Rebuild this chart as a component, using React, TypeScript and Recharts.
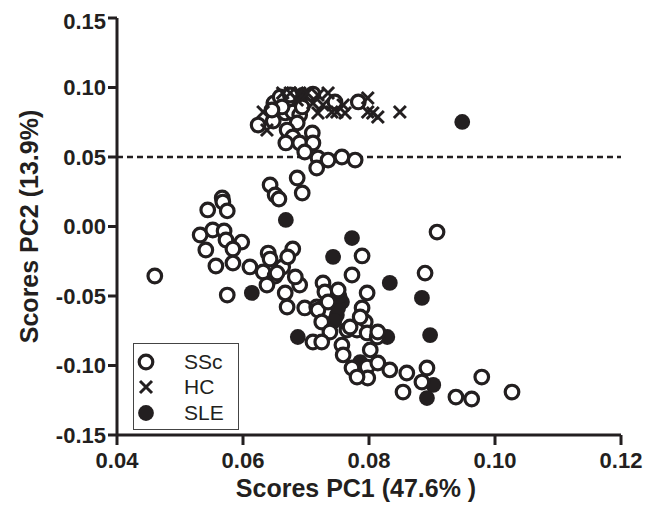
import {
  Legend,
  ReferenceLine,
  Scatter,
  ScatterChart,
  XAxis,
  YAxis,
} from 'recharts'

const INK = '#231f20'
const FONT = '"Liberation Sans", Arial, Helvetica, sans-serif'

const xTicks = [0.04, 0.06, 0.08, 0.1, 0.12]
const yTicks = [-0.15, -0.1, -0.05, 0, 0.05, 0.1, 0.15]
const cutoff = 0.05

// [PC1, PC2]
const sscScores: [number, number][] = [
  [0.0624, 0.073], [0.0648, 0.0759], [0.0649, 0.0888], [0.0659, 0.0932], [0.0667, 0.0817],
  [0.0679, 0.0824], [0.069, 0.0802], [0.0694, 0.086], [0.0686, 0.0745], [0.067, 0.0694],
  [0.0679, 0.0644], [0.0668, 0.0601], [0.069, 0.0601], [0.071, 0.0673], [0.0711, 0.0601],
  [0.0698, 0.0536], [0.0719, 0.0493], [0.0717, 0.0421], [0.0735, 0.0478], [0.0757, 0.05],
  [0.0778, 0.0478], [0.0711, 0.0953], [0.0746, 0.0896], [0.0783, 0.0896], [0.0662, 0.086],
  [0.0675, 0.0946], [0.0646, 0.0838],
  [0.0643, 0.0299], [0.0686, 0.0349], [0.0694, 0.0241], [0.0651, 0.0227], [0.0567, 0.0205],
  [0.046, -0.0356], [0.0544, 0.0119], [0.0568, 0.0176], [0.0575, 0.0112], [0.0532, -0.0061],
  [0.0552, -0.0025], [0.057, -0.0032], [0.0573, -0.0097], [0.0598, -0.0112], [0.0584, -0.0162],
  [0.0541, -0.0169], [0.0557, -0.0284], [0.0584, -0.0263], [0.0575, -0.0493], [0.0611, -0.0291],
  [0.0657, 0.0198],
  [0.064, -0.0191], [0.0643, -0.0234], [0.0632, -0.0327], [0.0663, -0.0291], [0.0679, -0.0162],
  [0.0671, -0.0219], [0.0651, -0.0356], [0.0638, -0.0421], [0.0667, -0.0478], [0.069, -0.0421],
  [0.067, -0.0579], [0.0698, -0.0586], [0.0717, -0.0579], [0.0654, -0.0335], [0.0683, -0.0363],
  [0.0789, -0.0212], [0.0773, -0.0349], [0.0727, -0.0406], [0.073, -0.0471], [0.0751, -0.0457],
  [0.0797, -0.0478], [0.0719, -0.0601], [0.0735, -0.0543], [0.0725, -0.0687], [0.0738, -0.0759],
  [0.0711, -0.0831], [0.0725, -0.0831], [0.0789, -0.0586], [0.0794, -0.0687], [0.0781, -0.0745],
  [0.0765, -0.0745], [0.0797, -0.0766], [0.0813, -0.0795], [0.0814, -0.0759], [0.0757, -0.0853],
  [0.0759, -0.0924], [0.0802, -0.0888], [0.0773, -0.1018], [0.0797, -0.1011], [0.0798, -0.109],
  [0.0814, -0.0982], [0.0833, -0.1032], [0.086, -0.1054], [0.0854, -0.1191], [0.0884, -0.1119],
  [0.0892, -0.1018], [0.0889, -0.0335], [0.0908, -0.004], [0.0938, -0.1227], [0.0963, -0.1241],
  [0.0979, -0.1083], [0.1027, -0.1191], [0.0786, -0.0651], [0.077, -0.0723], [0.0781, -0.1083],
]

const hcScores: [number, number][] = [
  [0.0632, 0.0824], [0.0638, 0.0694], [0.0675, 0.096], [0.069, 0.096], [0.0702, 0.096],
  [0.0719, 0.0946], [0.0735, 0.096], [0.0741, 0.0824], [0.0719, 0.0817], [0.0727, 0.0874],
  [0.0759, 0.0874], [0.0762, 0.0817], [0.0798, 0.0924], [0.0798, 0.0824], [0.0806, 0.0817],
  [0.0814, 0.0788], [0.0849, 0.0824], [0.0711, 0.0888], [0.0686, 0.091], [0.0663, 0.096],
  [0.0749, 0.0824],
]

const sleScores: [number, number][] = [
  [0.0948, 0.0752], [0.0668, 0.0047], [0.0614, -0.0478], [0.0773, -0.0083], [0.0743, -0.0219],
  [0.0833, -0.0406], [0.0884, -0.0514], [0.0897, -0.0781], [0.0687, -0.0795], [0.0757, -0.0543],
  [0.0749, -0.0637], [0.0751, -0.0586], [0.0745, -0.068], [0.0753, -0.05], [0.0829, -0.0795],
  [0.0902, -0.114], [0.0892, -0.1234], [0.0694, 0.0946], [0.0786, -0.0975],
]

const toPoints = (rows: [number, number][]) => rows.map(([x, y]) => ({ x, y }))

function OpenCircle({ cx, cy }: any) {
  return <circle cx={cx} cy={cy} r={6.8} fill="#fff" stroke={INK} strokeWidth={3.2} />
}

function Cross({ cx, cy }: any) {
  const s = 6
  return (
    <path
      d={`M${cx - s},${cy - s}L${cx + s},${cy + s}M${cx - s},${cy + s}L${cx + s},${cy - s}`}
      stroke={INK}
      strokeWidth={3}
      fill="none"
    />
  )
}

function Dot({ cx, cy }: any) {
  return <circle cx={cx} cy={cy} r={7.9} fill={INK} />
}

const groups = [
  { name: 'SSc', Shape: OpenCircle },
  { name: 'HC', Shape: Cross },
  { name: 'SLE', Shape: Dot },
]

function LegendBox() {
  return (
    <div
      style={{
        width: 106,
        height: 87,
        border: '1.5px solid #444',
        background: '#fff',
        paddingTop: 5,
        boxSizing: 'border-box',
        fontFamily: FONT,
      }}
    >
      {groups.map(({ name, Shape }) => (
        <div key={name} style={{ display: 'flex', alignItems: 'center', height: 25.5 }}>
          <svg width={24} height={24}>
            <Shape cx={12} cy={12} />
          </svg>
          <span style={{ marginLeft: 26, fontSize: 21, color: INK }}>{name}</span>
        </div>
      ))}
    </div>
  )
}

function YTitle({ viewBox }: any) {
  const x = viewBox.x + 21
  const y = viewBox.y + viewBox.height / 2
  return (
    <text
      x={x}
      y={y}
      transform={`rotate(-90 ${x} ${y})`}
      textAnchor="middle"
      dominantBaseline="central"
      fill={INK}
      fontSize={25}
      fontWeight={700}
      fontFamily={FONT}
    >
      Scores PC2 (13.9%)
    </text>
  )
}

function XTitle({ viewBox }: any) {
  return (
    <text
      x={viewBox.x + viewBox.width / 2 - 13}
      y={viewBox.y + 62}
      textAnchor="middle"
      fill={INK}
      fontSize={25}
      fontWeight={700}
      fontFamily={FONT}
    >
      Scores PC1 (47.6% )
    </text>
  )
}

export default function App() {
  const tick = { fill: INK, fontSize: 22, fontWeight: 700, fontFamily: FONT }
  const axisLine = { stroke: INK, strokeWidth: 3 }
  return (
    <div style={{ width: 652, height: 505, fontFamily: FONT }}>
      <ScatterChart width={652} height={505} margin={{ top: 10, right: 39, bottom: 0, left: 0 }}>
        <XAxis
          type="number"
          dataKey="x"
          domain={[0.04, 0.12]}
          ticks={xTicks}
          tickFormatter={(v: number) => v.toFixed(2)}
          height={78}
          tick={tick}
          axisLine={axisLine}
          tickLine={axisLine}
          tickSize={10}
          tickMargin={7}
          label={{ content: XTitle }}
        />
        <YAxis
          type="number"
          dataKey="y"
          domain={[-0.15, 0.15]}
          ticks={yTicks}
          tickFormatter={(v: number) => v.toFixed(2)}
          width={109}
          tick={tick}
          axisLine={axisLine}
          tickLine={axisLine}
          tickSize={9}
          tickMargin={2}
          label={{ content: YTitle }}
        />
        <ReferenceLine y={cutoff} stroke={INK} strokeWidth={2.5} strokeDasharray="6 4" />
        <Scatter name="SLE" data={toPoints(sleScores)} shape={Dot} isAnimationActive={false} />
        <Scatter name="SSc" data={toPoints(sscScores)} shape={OpenCircle} isAnimationActive={false} />
        <Scatter name="HC" data={toPoints(hcScores)} shape={Cross} isAnimationActive={false} />
        <Legend
          layout="vertical"
          align="center"
          verticalAlign="middle"
          wrapperStyle={{ left: 125, top: 335, width: 106 }}
          content={() => <LegendBox />}
        />
      </ScatterChart>
    </div>
  )
}
